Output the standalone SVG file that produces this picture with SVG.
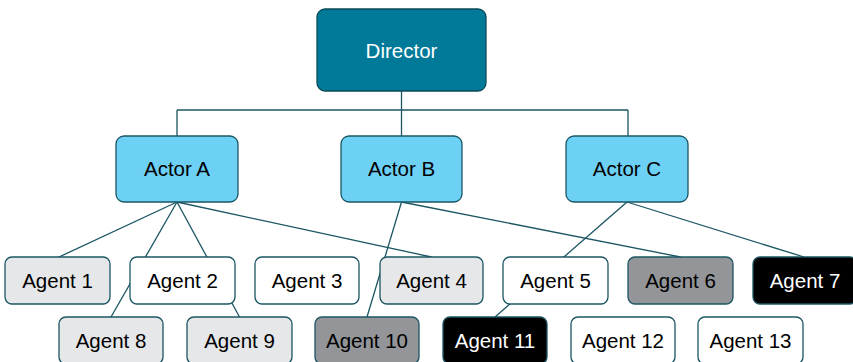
<svg xmlns="http://www.w3.org/2000/svg" width="853" height="362" viewBox="0 0 853 362">
  <style>
    .edge { fill: none; stroke: #1b5563; stroke-width: 1.3; }
    .box { stroke: #1b5563; stroke-width: 1.3; }
    .director { fill: #007a98; stroke: #0d4a58; }
    .actor { fill: #6dd0f5; }
    .white { fill: #ffffff; }
    .light { fill: #e6e7e9; }
    .mid { fill: #939598; }
    .dark { fill: #000000; }
    text { font-family: "Liberation Sans", Arial, Helvetica, sans-serif; font-size: 20.5px; text-anchor: middle; fill: #000000; }
    .inv { fill: #ffffff; }
  </style>

  <g id="connectors">
    <!-- director to actors -->
    <path class="edge" d="M401.5,91 V110 M177,110 H628 M177,110 V136 M401.5,110 V136 M628,110 V136"/>
    <!-- actor A -->
    <line class="edge" x1="177" y1="202" x2="59" y2="257"/>
    <line class="edge" x1="177" y1="202" x2="111" y2="317"/>
    <line class="edge" x1="177" y1="202" x2="239.5" y2="317"/>
    <line class="edge" x1="177" y1="202" x2="431.5" y2="257"/>
    <!-- actor B -->
    <line class="edge" x1="401.5" y1="202" x2="367" y2="317"/>
    <line class="edge" x1="401.5" y1="202" x2="680.5" y2="257"/>
    <!-- actor C -->
    <line class="edge" x1="627" y1="202" x2="495" y2="317"/>
    <line class="edge" x1="627" y1="202" x2="804" y2="257"/>
  </g>

  <g id="director">
    <rect class="box director" x="317" y="9" width="169" height="82" rx="8"/>
    <text class="inv" x="401.5" y="57.5" font-size="21">Director</text>
  </g>

  <g id="actor-a">
    <rect class="box actor" x="116" y="136" width="122" height="66" rx="8"/>
    <text x="177" y="176">Actor A</text>
  </g>
  <g id="actor-b">
    <rect class="box actor" x="341" y="136" width="121" height="66" rx="8"/>
    <text x="401.5" y="176">Actor B</text>
  </g>
  <g id="actor-c">
    <rect class="box actor" x="566" y="136" width="122" height="66" rx="8"/>
    <text x="627" y="176">Actor C</text>
  </g>

  <g id="agent-1">
    <rect class="box light" x="5" y="257" width="105" height="47" rx="7"/>
    <text x="57.5" y="287.5">Agent 1</text>
  </g>
  <g id="agent-2">
    <rect class="box white" x="130" y="257" width="105" height="47" rx="7"/>
    <text x="182.5" y="287.5">Agent 2</text>
  </g>
  <g id="agent-3">
    <rect class="box white" x="255" y="257" width="104" height="47" rx="7"/>
    <text x="307" y="287.5">Agent 3</text>
  </g>
  <g id="agent-4">
    <rect class="box light" x="380" y="257" width="103" height="47" rx="7"/>
    <text x="431.5" y="287.5">Agent 4</text>
  </g>
  <g id="agent-5">
    <rect class="box white" x="503" y="257" width="105" height="47" rx="7"/>
    <text x="555.5" y="287.5">Agent 5</text>
  </g>
  <g id="agent-6">
    <rect class="box mid" x="628" y="257" width="105" height="47" rx="7"/>
    <text x="680.5" y="287.5">Agent 6</text>
  </g>
  <g id="agent-7">
    <rect class="box dark" x="753" y="257" width="104" height="47" rx="7"/>
    <text class="inv" x="805" y="287.5">Agent 7</text>
  </g>

  <g id="agent-8">
    <rect class="box light" x="59" y="317" width="104" height="47" rx="7"/>
    <text x="111" y="347.5">Agent 8</text>
  </g>
  <g id="agent-9">
    <rect class="box light" x="187" y="317" width="105" height="47" rx="7"/>
    <text x="239.5" y="347.5">Agent 9</text>
  </g>
  <g id="agent-10">
    <rect class="box mid" x="315" y="317" width="104" height="47" rx="7"/>
    <text x="367" y="347.5">Agent 10</text>
  </g>
  <g id="agent-11">
    <rect class="box dark" x="443" y="317" width="104" height="47" rx="7"/>
    <text class="inv" x="495" y="347.5">Agent 11</text>
  </g>
  <g id="agent-12">
    <rect class="box white" x="571" y="317" width="104" height="47" rx="7"/>
    <text x="623" y="347.5">Agent 12</text>
  </g>
  <g id="agent-13">
    <rect class="box white" x="698" y="317" width="105" height="47" rx="7"/>
    <text x="750.5" y="347.5">Agent 13</text>
  </g>
</svg>
